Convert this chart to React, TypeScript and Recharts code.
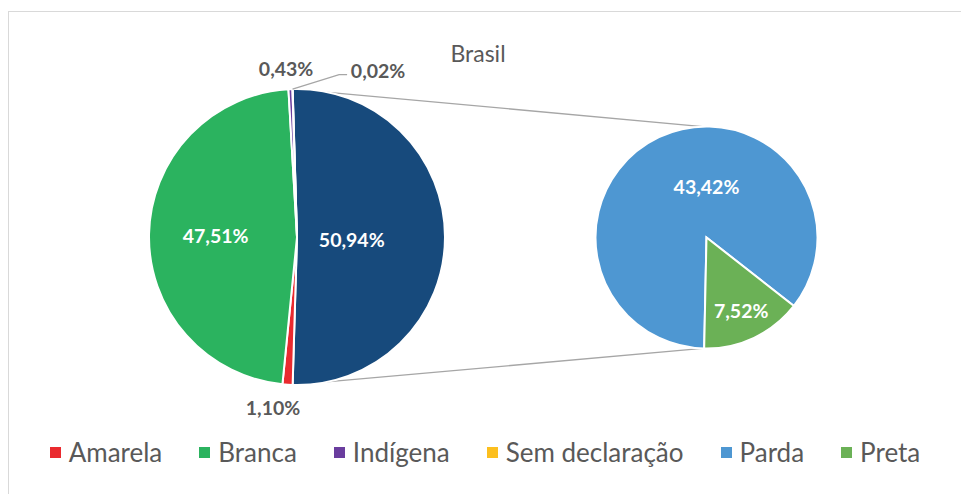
import { PieChart, Pie, Cell, Legend } from 'recharts'

// Cor ou raça - Brasil (%)
const categories = ['Amarela', 'Branca', 'Indígena', 'Sem declaração', 'Parda', 'Preta']
const shares = [1.1, 47.51, 0.43, 0.02, 43.42, 7.52]
const palette = ['#ea2a2f', '#2bb35f', '#6a3d9e', '#fcbf1e', '#4e97d2', '#6bb156']

const mainNames = ['Amarela', 'Branca', 'Indígena', 'Sem declaração']
const subNames = ['Parda', 'Preta']
const OTHER = 'Parda + Preta'

const shareOf = (n: string) => shares[categories.indexOf(n)]
const colorOf = (n: string) => palette[categories.indexOf(n)]

const otherShare = subNames.reduce((s, n) => s + shareOf(n), 0)
const mainData = [
  { name: OTHER, value: otherShare },
  ...mainNames.map(n => ({ name: n, value: shareOf(n) })),
]
const subData = subNames.map(n => ({ name: n, value: shareOf(n) }))

const W = 952
const H = 482
const MAIN = { cx: 288, cy: 225, r: 148 }
const SUB = { cx: 697.5, cy: 225.5, r: 111 }
const FONT = 'Lato, "Open Sans", sans-serif'
const GREY = '#595959'
const RAD = Math.PI / 180

const mainStart = (otherShare / 100) * 360 / 2

const fmt = (v: number) => v.toFixed(2).replace('.', ',') + '%'

// where Excel put each label: radius factor (of outer radius) or outside offset, optional fixed angle
const labelPos: Record<string, { f?: number; out?: number; angle?: number; dy?: number; color: string }> = {
  [OTHER]: { f: 0.37, dy: 2, color: '#fff' },
  Branca: { f: 0.55, color: '#fff' },
  Amarela: { out: 24, angle: -98, color: GREY },
  'Indígena': { out: 21, angle: 93.7, color: GREY },
  'Sem declaração': { out: 37, angle: 64, color: GREY },
  Parda: { f: 0.46, angle: 90, color: '#fff' },
  Preta: { f: 0.73, color: '#fff' },
}

function renderLabel(props: any) {
  const { cx, cy, midAngle, outerRadius, name, value } = props
  const p = labelPos[name]
  if (!p) return null
  const a = (p.angle ?? midAngle) * RAD
  const d = p.out != null ? outerRadius + p.out : outerRadius * (p.f ?? 0.5)
  const x = cx + d * Math.cos(a)
  const y = cy - d * Math.sin(a) + (p.dy ?? 0)
  let leader = null
  if (name === 'Sem declaração') {
    const m = midAngle * RAD
    const ex = cx + outerRadius * Math.cos(m)
    const ey = cy - outerRadius * Math.sin(m)
    const x0 = x - 29
    leader = (
      <polyline
        points={`${ex},${ey} ${x0 - 10},${y + 4} ${x0 - 2},${y + 4}`}
        fill="none"
        stroke="#a6a6a6"
        strokeWidth={1.3}
      />
    )
  }
  return (
    <g>
      {leader}
      <text
        x={x}
        y={y}
        textAnchor="middle"
        dominantBaseline="central"
        fill={p.color}
        fontSize={19.5}
        fontWeight={700}
        fontFamily={FONT}
      >
        {fmt(value)}
      </text>
    </g>
  )
}

function LegendContent() {
  return (
    <div style={{ display: 'flex', justifyContent: 'center', gap: 37, fontFamily: FONT, fontSize: 26, color: GREY, lineHeight: '28px' }}>
      {categories.map(c => (
        <div key={c} style={{ display: 'flex', alignItems: 'center' }}>
          <span style={{ width: 11, height: 11, background: colorOf(c), marginRight: 8, display: 'inline-block' }} />
          <span>{c}</span>
        </div>
      ))}
    </div>
  )
}

export default function App() {
  const mTop = mainStart * RAD
  const mBot = -mainStart * RAD
  const sTop = 92 * RAD
  const sBot = -92 * RAD
  return (
    <div
      style={{
        position: 'absolute',
        left: 8,
        top: 11,
        width: W,
        height: H,
        borderTop: '1px solid #d9d9d9',
        borderLeft: '1px solid #d9d9d9',
        background: '#fff',
      }}
    >
      <PieChart width={W} height={H} margin={{ top: 0, right: 0, bottom: 0, left: 0 }}>
        <text x={469} y={41} textAnchor="middle" dominantBaseline="central" fontSize={23} fill={GREY} fontFamily={FONT}>
          Brasil
        </text>
        <line
          x1={MAIN.cx + MAIN.r * Math.cos(mTop)}
          y1={MAIN.cy - MAIN.r * Math.sin(mTop)}
          x2={SUB.cx + SUB.r * Math.cos(sTop)}
          y2={SUB.cy - SUB.r * Math.sin(sTop)}
          stroke="#a6a6a6"
          strokeWidth={1.3}
        />
        <line
          x1={MAIN.cx + MAIN.r * Math.cos(mBot)}
          y1={MAIN.cy - MAIN.r * Math.sin(mBot)}
          x2={SUB.cx + SUB.r * Math.cos(sBot)}
          y2={SUB.cy - SUB.r * Math.sin(sBot)}
          stroke="#a6a6a6"
          strokeWidth={1.3}
        />
        <Pie
          data={mainData}
          dataKey="value"
          nameKey="name"
          cx={MAIN.cx}
          cy={MAIN.cy}
          outerRadius={MAIN.r}
          startAngle={mainStart}
          endAngle={mainStart - 360}
          stroke="#fff"
          strokeWidth={2}
          label={renderLabel}
          labelLine={false}
          isAnimationActive={false}
        >
          {mainData.map(d => (
            <Cell key={d.name} fill={d.name === OTHER ? '#174a7c' : colorOf(d.name)} />
          ))}
        </Pie>
        <Pie
          data={subData}
          dataKey="value"
          nameKey="name"
          cx={SUB.cx}
          cy={SUB.cy}
          outerRadius={SUB.r}
          startAngle={-91.2}
          endAngle={-451.2}
          stroke="#fff"
          strokeWidth={2}
          label={renderLabel}
          labelLine={false}
          isAnimationActive={false}
        >
          {subData.map(d => (
            <Cell key={d.name} fill={colorOf(d.name)} />
          ))}
        </Pie>
        <Legend content={LegendContent} wrapperStyle={{ top: 426, left: 0, width: W }} />
      </PieChart>
    </div>
  )
}
